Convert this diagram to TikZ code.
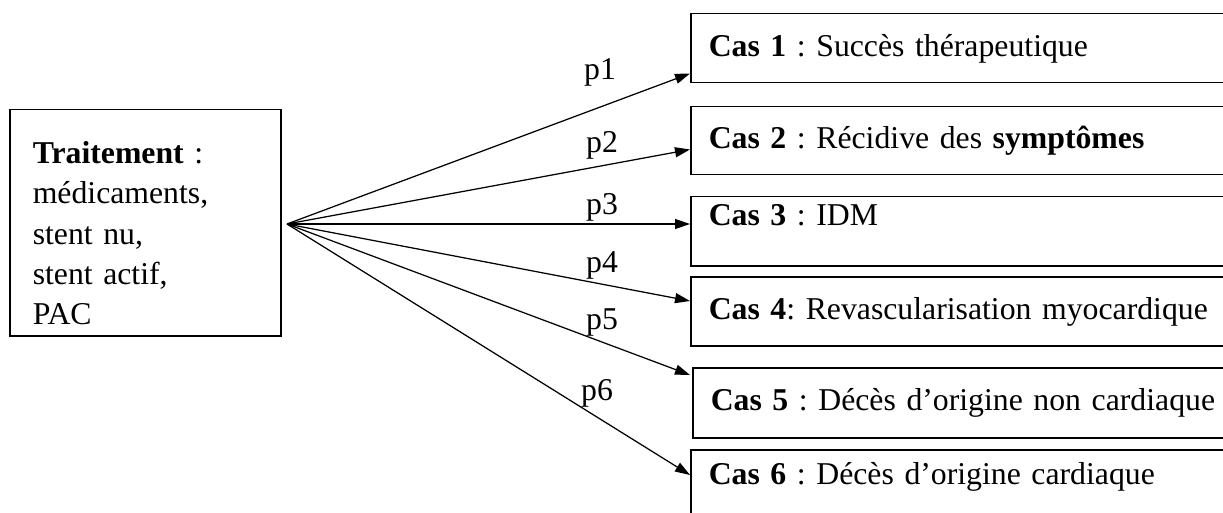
\documentclass[tikz,border=0pt]{standalone}
\usepackage{fontspec}
\setmainfont{Liberation Serif}
\usepackage{tikz}
\usetikzlibrary{positioning}
\usetikzlibrary{arrows.meta}
\usetikzlibrary{calc}
\frenchspacing

\begin{document}
\begin{tikzpicture}[x=0.4pt,y=-0.4pt,
  font=\fontsize{12.7}{15.2}\selectfont,
  casbox/.style={draw,line width=0.6pt,anchor=north west,align=left,
    minimum width=226.4pt,text width=212pt,inner xsep=7.2pt,minimum height=27.6pt,
    text height=9.5pt,text depth=3pt},
  pil/.style={line width=0.5pt,-{Triangle[length=6pt,width=4pt]}}]
\useasboundingbox (0,0) rectangle (1223,512);

\node[draw,line width=0.6pt,anchor=north west,align=left,minimum width=108.4pt,
  text width=90pt,inner xsep=9.2pt,inner ysep=0pt,text height=21.6pt,text depth=68.8pt,
  font=\fontsize{12.7}{16.1}\selectfont] (trt) at (9,109)
  {\textbf{Traitement} :\\ médicaments,\\ stent nu,\\ stent actif,\\ PAC};
\coordinate (src) at (287,224);

\node[casbox] (cas1) at (690,13) {\textbf{Cas 1} : Succès thérapeutique};
\node[casbox,minimum height=27.2pt] (cas2) at (690,106) {\textbf{Cas 2} : Récidive des \textbf{symptômes}};
% texte en haut de la case
\node[casbox,inner ysep=1.5pt,text height=9.7pt,text depth=14.1pt] (cas3) at (690,196) {\textbf{Cas 3} : IDM};
\node[casbox] (cas4) at (690,276) {\textbf{Cas 4}: Revascularisation myocardique};
\node[casbox,minimum height=28pt] (cas5) at (692,367) {\textbf{Cas 5} : Décès d’origine non cardiaque};
\node[casbox,inner ysep=2pt,text height=12pt,text depth=20pt] (cas6) at (690,449) {\textbf{Cas 6} : Décès d’origine cardiaque};

\draw[pil] (src) -- ($(cas1.south west)+(0,-10)$);
\draw[pil] (src) -- ($(cas2.south west)+(0,-26)$);
\draw[pil] (src) -- ($(cas3.north west)+(0,28)$);
\draw[pil] (src) -- ($(cas4.north west)+(0,25)$);
\draw[pil] (src) -- ($(cas5.north west)+(-2,8)$);
\draw[pil] (src) -- ($(cas6.north west)+(0,26)$);

\node (p1) at (600,72) {p1};
\node (p2) at (602,145) {p2};
\node (p3) at (602,207) {p3};
\node (p4) at (602,265) {p4};
\node (p5) at (602,322) {p5};
\node (p6) at (597,393) {p6};
\end{tikzpicture}
\end{document}
